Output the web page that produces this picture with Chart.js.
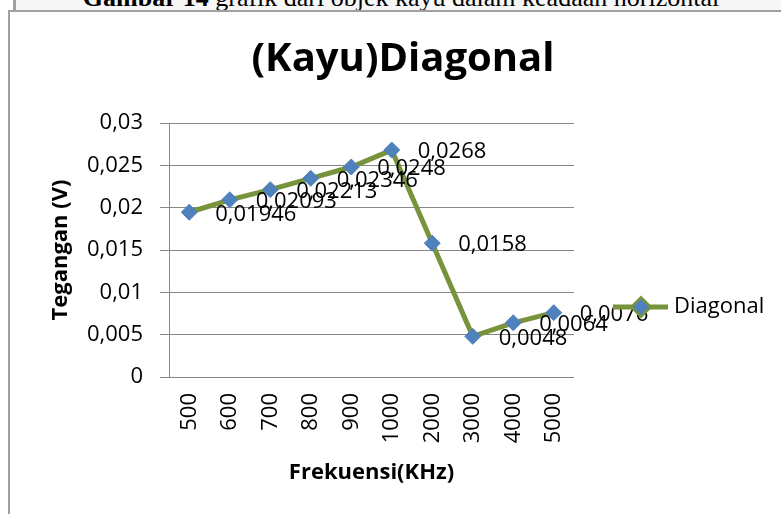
<!DOCTYPE html>
<html>
<head>
<meta charset="utf-8">
<script src="https://cdn.jsdelivr.net/npm/chart.js@4.4.0/dist/chart.umd.min.js"></script>
<style>
  body { margin: 0; background: #fff; width: 781px; height: 514px; overflow: hidden; position: relative; }
  #caption {
    position: absolute; left: 13px; top: 0; width: 768px; height: 10px;
    border-left: 3px solid #a0a0a0; background: #f7f7f7; overflow: hidden;
  }
  #caption span {
    position: absolute; left: 0; width: 770px; top: -15px; text-align: center;
    font: 26px "Liberation Serif", serif; line-height: 26px; color: #000; white-space: nowrap;
  }
  #frame {
    position: absolute; left: 8px; top: 10px; width: 800px; height: 600px;
    border-left: 2px solid #a0a0a0; border-top: 2px solid #a0a0a0;
  }
  #chart1 { position: absolute; left: 0; top: 0; }
</style>
</head>
<body>
<div id="caption"><span><b>Gambar 14</b> grafik dari objek kayu dalam keadaan horizontal</span></div>
<div id="frame"></div>
<canvas id="chart1" width="781" height="514"></canvas>
<script>
var judul = "(Kayu)Diagonal";
var frekuensi = ["500", "600", "700", "800", "900", "1000", "2000", "3000", "4000", "5000"];
var tegangan = [0.01946, 0.02093, 0.02213, 0.02346, 0.0248, 0.0268, 0.0158, 0.0048, 0.0064, 0.0076];
var yTicks = ["0", "0,005", "0,01", "0,015", "0,02", "0,025", "0,03"];

var green = "#77933C";
var blue = "#4F81BD";
var grey = "#868686";

function koma(v) {
  return String(v).replace(".", ",");
}

// title, value labels to the right of every point, and the line+diamond legend
var labelPlugin = {
  id: "labels",
  afterDatasetsDraw: function (chart) {
    var ctx = chart.ctx;
    var meta = chart.getDatasetMeta(0);
    var ds = chart.data.datasets[0];
    ctx.save();

    ctx.font = "bold 40px 'Open Sans'";
    ctx.fillStyle = "#000";
    ctx.textAlign = "center";
    ctx.textBaseline = "middle";
    ctx.fillText(judul, 403, 60);

    ctx.font = "22px 'Open Sans'";
    ctx.textAlign = "left";
    meta.data.forEach(function (pt, i) {
      ctx.fillText(koma(ds.data[i]), pt.x + 26, pt.y + 2);
    });

    // legend
    var lx = 613, ly = 307;
    ctx.strokeStyle = ds.borderColor;
    ctx.lineWidth = ds.borderWidth;
    ctx.beginPath();
    ctx.moveTo(lx, ly);
    ctx.lineTo(lx + 55, ly);
    ctx.stroke();
    Chart.helpers.drawPoint(ctx, { pointStyle: "rectRot", radius: ds.pointRadius, rotation: 0, borderWidth: 1 }, lx + 28, ly);
    ctx.fillStyle = ds.pointBackgroundColor;
    ctx.fill();
    ctx.fillStyle = "#000";
    ctx.fillText(ds.label, lx + 61, ly);
    ctx.restore();
  }
};

new Chart("chart1", {
  type: "line",
  data: {
    labels: frekuensi,
    datasets: [{
      label: "Diagonal",
      data: tegangan,
      fill: false,
      tension: 0,
      borderColor: green,
      borderWidth: 5,
      pointStyle: "rectRot",
      pointRadius: 8,
      pointBackgroundColor: blue,
      pointBorderColor: blue,
      pointBorderWidth: 1
    }]
  },
  options: {
    responsive: false,
    animation: false,
    layout: {
      padding: { left: 44, right: 207, top: 123, bottom: 24 }
    },
    plugins: {
      legend: { display: false },
      tooltip: { enabled: false },
      title: { display: false }
    },
    scales: {
      x: {
        offset: true,
        afterFit: function (s) { s.height = 113; },
        grid: { display: false, drawTicks: false },
        border: { display: false },
        ticks: {
          color: "#000",
          font: { family: "'Open Sans'", size: 22 },
          minRotation: 90,
          maxRotation: 90,
          padding: 16
        },
        title: {
          display: true,
          text: "Frekuensi(KHz)",
          color: "#000",
          font: { family: "'Open Sans'", size: 22, weight: "bold" },
          padding: { top: 4, bottom: 4 }
        }
      },
      y: {
        min: 0,
        max: 0.03,
        afterFit: function (s) { s.width = 125; },
        grid: { color: grey, lineWidth: 1, tickLength: 9 },
        border: { display: true, color: grey, width: 1 },
        ticks: {
          stepSize: 0.005,
          color: "#000",
          font: { family: "'Open Sans'", size: 22 },
          padding: 17,
          callback: function (value, index) { return yTicks[index]; }
        },
        title: {
          display: true,
          text: "Tegangan (V)",
          color: "#000",
          font: { family: "'Open Sans'", size: 22, weight: "bold" },
          padding: { top: 4, bottom: 4 }
        }
      }
    }
  },
  plugins: [labelPlugin]
});
</script>
</body>
</html>
